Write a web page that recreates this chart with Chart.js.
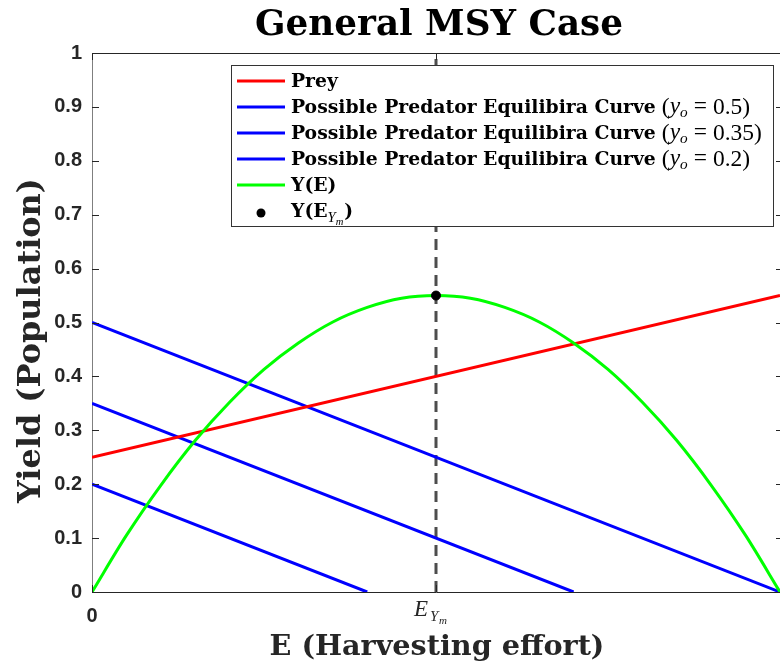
<!DOCTYPE html>
<html>
<head>
<meta charset="utf-8">
<script src="https://cdn.jsdelivr.net/npm/chart.js@4.4.1/dist/chart.umd.min.js"></script>
<style>
  html, body { margin: 0; padding: 0; background: #fff; }
  canvas { display: block; }
</style>
</head>
<body>
<canvas id="chart" width="780" height="665"></canvas>
<script>
// values
const effortGrid = [0, 0.05, 0.1, 0.15, 0.2, 0.25, 0.3, 0.35, 0.4, 0.45, 0.5,
                    0.55, 0.6, 0.65, 0.7, 0.75, 0.8, 0.85, 0.9, 0.95, 1]
const yieldCurve = [0, 0.105, 0.198, 0.281, 0.352, 0.413, 0.462, 0.501, 0.528, 0.545, 0.55,
                    0.545, 0.528, 0.501, 0.462, 0.413, 0.352, 0.281, 0.198, 0.105, 0]

const preyE = [0, 1]
const preyY = [0.25, 0.55]
const pred05E = [0, 1]
const pred05Y = [0.5, 0]
const pred035E = [0, 0.7]
const pred035Y = [0.35, 0]
const pred02E = [0, 0.4]
const pred02Y = [0.2, 0]

const msyE = [0.5]
const msyY = [0.55]
const msyLineE = [0.5, 0.5]
const msyLineY = [0, 1]

const yTickValues = [0, 0.1, 0.2, 0.3, 0.4, 0.5, 0.6, 0.7, 0.8, 0.9, 1]
const yTickLabels = ["0", "0.1", "0.2", "0.3", "0.4", "0.5", "0.6", "0.7", "0.8", "0.9", "1"]
const xTickValues = [0, 0.5]
const xTickLabels = ["0", "E_Ym"]

const legendRows = [
  { kind: "line", color: "#ff0000", bold: "Prey", math: null },
  { kind: "line", color: "#0000ff", bold: "Possible Predator Equilibira Curve", math: "0.5" },
  { kind: "line", color: "#0000ff", bold: "Possible Predator Equilibira Curve", math: "0.35" },
  { kind: "line", color: "#0000ff", bold: "Possible Predator Equilibira Curve", math: "0.2" },
  { kind: "line", color: "#00ff00", bold: "Y(E)", math: null },
  { kind: "dot", color: "#000000", bold: "Y(E", math: null, sub: true }
]

const zip = (xs, ys) => xs.map((x, i) => ({ x: x, y: ys[i] }))

const SERIF = "'DejaVu Serif', 'Liberation Serif', serif"
const MATH = "'Liberation Serif', 'DejaVu Serif', serif"
const SANS = "'Liberation Sans', Arial, sans-serif"
const INK = "#262626"

// fit a font size so the string spans a given width
function fitSize(ctx, text, weight, family, width) {
  ctx.font = weight + " 100px " + family
  return 100 * width / ctx.measureText(text).width
}

const decor = {
  id: "decor",
  afterDraw(chart) {
    const ctx = chart.ctx
    const a = chart.chartArea
    const xs = chart.scales.x
    const ys = chart.scales.y
    ctx.save()

    // top box edge
    ctx.strokeStyle = INK
    ctx.lineWidth = 1
    ctx.beginPath()
    ctx.moveTo(a.left, a.top + 0.5)
    ctx.lineTo(a.right, a.top + 0.5)
    ctx.stroke()

    // inward ticks
    ctx.beginPath()
    yTickValues.forEach(v => {
      const py = Math.round(ys.getPixelForValue(v)) + 0.5
      ctx.moveTo(a.left, py); ctx.lineTo(a.left + 7, py)
      ctx.moveTo(a.right, py); ctx.lineTo(a.right - 4, py)
    })
    xTickValues.forEach(v => {
      const px = Math.round(xs.getPixelForValue(v)) + 0.5
      ctx.moveTo(px, a.bottom); ctx.lineTo(px, a.bottom - 7)
      ctx.moveTo(px, a.top); ctx.lineTo(px, a.top + 7)
    })
    ctx.stroke()

    // x tick labels
    ctx.fillStyle = INK
    ctx.textBaseline = "alphabetic"
    ctx.textAlign = "center"
    ctx.font = "bold 20px " + SANS
    ctx.fillText(xTickLabels[0], xs.getPixelForValue(xTickValues[0]), 622)
    const ex = xs.getPixelForValue(xTickValues[1])
    ctx.textAlign = "left"
    ctx.font = "italic 23px " + MATH
    ctx.fillText("E", ex - 22, 616)
    ctx.font = "italic 15px " + MATH
    ctx.fillText("Y", ex - 6, 621)
    ctx.font = "italic 11px " + MATH
    ctx.fillText("m", ex + 3, 624)

    // legend box
    const lx = 231, ly = 65, lw = 542, lh = 161
    ctx.fillStyle = "#ffffff"
    ctx.fillRect(lx, ly, lw, lh)
    ctx.strokeStyle = "#333333"
    ctx.lineWidth = 1
    ctx.strokeRect(lx + 0.5, ly + 0.5, lw, lh)

    const legSize = fitSize(ctx, "Possible Predator Equilibira Curve", "bold", SERIF, 365)
    const mathSize = legSize * 1.25
    legendRows.forEach((row, i) => {
      const cy = 81 + i * 26
      if (row.kind === "line") {
        ctx.strokeStyle = row.color
        ctx.lineWidth = 3
        ctx.beginPath()
        ctx.moveTo(237, cy); ctx.lineTo(285, cy)
        ctx.stroke()
      } else {
        ctx.fillStyle = row.color
        ctx.beginPath()
        ctx.arc(261, cy + 2, 4.5, 0, Math.PI * 2)
        ctx.fill()
      }
      ctx.fillStyle = "#000"
      ctx.textAlign = "left"
      const base = cy + 6
      let x = 291
      ctx.font = "bold " + legSize + "px " + SERIF
      ctx.fillText(row.bold, x, base)
      x += ctx.measureText(row.bold).width
      if (row.sub) {
        ctx.font = "italic " + (mathSize * 0.62) + "px " + MATH
        ctx.fillText("Y", x, base + 5)
        x += ctx.measureText("Y").width
        ctx.font = "italic " + (mathSize * 0.45) + "px " + MATH
        ctx.fillText("m", x, base + 8)
        x += ctx.measureText("m").width + 1
        ctx.font = "bold " + legSize + "px " + SERIF
        ctx.fillText(")", x, base)
      }
      if (row.math) {
        x += 6
        ctx.font = mathSize + "px " + MATH
        ctx.fillText("(", x, base + 1); x += ctx.measureText("(").width
        ctx.font = "italic " + mathSize + "px " + MATH
        ctx.fillText("y", x, base); x += ctx.measureText("y").width
        ctx.font = "italic " + (mathSize * 0.65) + "px " + MATH
        ctx.fillText("o", x, base + 4); x += ctx.measureText("o").width + 6
        ctx.font = mathSize + "px " + MATH
        ctx.fillText("=", x, base); x += ctx.measureText("=").width + 6
        ctx.fillText(row.math + ")", x, base + 1)
      }
    })

    // titles
    ctx.fillStyle = "#000"
    ctx.textAlign = "center"
    const tSize = fitSize(ctx, "General MSY Case", "bold", SERIF, 368)
    ctx.font = "bold " + tSize + "px " + SERIF
    ctx.fillText("General MSY Case", 439, 35)

    ctx.fillStyle = INK
    const xtSize = fitSize(ctx, "E (Harvesting effort)", "bold", SERIF, 335)
    ctx.font = "bold " + xtSize + "px " + SERIF
    ctx.fillText("E (Harvesting effort)", 437, 655)

    const ytSize = fitSize(ctx, "Yield (Population)", "bold", SERIF, 325)
    ctx.font = "bold " + ytSize + "px " + SERIF
    ctx.translate(40, (a.top + a.bottom) / 2 + 18)
    ctx.rotate(-Math.PI / 2)
    ctx.fillText("Yield (Population)", 0, 0)

    ctx.restore()
  }
}

new Chart(document.getElementById("chart"), {
  type: "scatter",
  data: {
    datasets: [
      { label: "MSY line", data: zip(msyLineE, msyLineY), showLine: true, borderColor: "#4d4d4d",
        borderWidth: 3, borderDash: [11, 7], pointRadius: 0, order: 7 },
      { label: "Predator 0.5", data: zip(pred05E, pred05Y), showLine: true, borderColor: "#0000ff",
        borderWidth: 3, pointRadius: 0, order: 6 },
      { label: "Predator 0.35", data: zip(pred035E, pred035Y), showLine: true, borderColor: "#0000ff",
        borderWidth: 3, pointRadius: 0, order: 5 },
      { label: "Predator 0.2", data: zip(pred02E, pred02Y), showLine: true, borderColor: "#0000ff",
        borderWidth: 3, pointRadius: 0, order: 4 },
      { label: "Prey", data: zip(preyE, preyY), showLine: true, borderColor: "#ff0000",
        borderWidth: 3, pointRadius: 0, order: 3 },
      { label: "Y(E)", data: zip(effortGrid, yieldCurve), showLine: true, borderColor: "#00ff00",
        borderWidth: 3, pointRadius: 0, cubicInterpolationMode: "monotone", order: 2 },
      { label: "Y(E_Ym)", data: zip(msyE, msyY), backgroundColor: "#000", borderColor: "#000",
        pointRadius: 4.5, order: 1 }
    ]
  },
  options: {
    responsive: false,
    animation: false,
    devicePixelRatio: 1,
    layout: { autoPadding: false, padding: { top: 53, right: 0, bottom: 0, left: 0 } },
    plugins: { legend: { display: false }, tooltip: { enabled: false }, title: { display: false } },
    scales: {
      x: {
        type: "linear", min: 0, max: 1,
        grid: { display: false, drawTicks: false },
        border: { display: true, color: INK, width: 1 },
        ticks: { display: false },
        afterFit(scale) { scale.height = 73 }
      },
      y: {
        type: "linear", min: 0, max: 1,
        grid: { display: false, drawTicks: false },
        border: { display: true, color: "#7f7f7f", width: 1 },
        afterBuildTicks(scale) { scale.ticks = yTickValues.map(v => ({ value: v })) },
        ticks: {
          padding: 10,
          color: INK,
          font: { family: SANS, size: 20, weight: "bold" },
          callback: (v, i) => yTickLabels[i]
        },
        afterFit(scale) { scale.width = 92 }
      }
    }
  },
  plugins: [decor]
})
</script>
</body>
</html>
